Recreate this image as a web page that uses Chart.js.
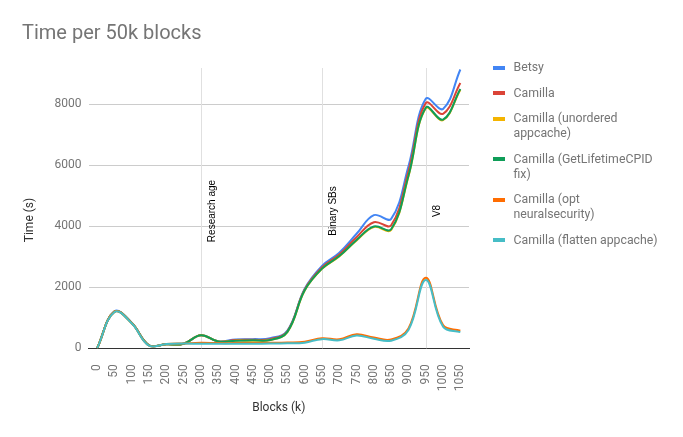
<!DOCTYPE html>
<html>
<head>
<meta charset="utf-8">
<script src="https://cdn.jsdelivr.net/npm/chart.js@4/dist/chart.umd.min.js"></script>
<style>
  body { margin: 0; background: #fff; }
  #wrap { position: relative; width: 683px; height: 437px; }
  #legend { position: absolute; left: 493px; top: 60px; width: 172px; font: 12.3px Roboto, sans-serif; color: #757575; }
  .item { position: relative; padding-left: 20.5px; width: 150px; line-height: 15px; margin-bottom: 10.5px; }
  .sw { position: absolute; left: 0; top: 5.5px; width: 12px; height: 4px; }
</style>
</head>
<body>
<div id="wrap">
  <canvas id="chart" width="683" height="437"></canvas>
  <div id="legend"></div>
</div>
<script>
const blocks = ['0', '50', '100', '150', '200', '250', '300', '350', '400', '450', '500',
  '550', '600', '650', '700', '750', '800', '850', '900', '950', '1000', '1050'];

const seriesNames = ['Betsy', 'Camilla', 'Camilla (unordered appcache)', 'Camilla (GetLifetimeCPID fix)',
  'Camilla (opt neuralsecurity)', 'Camilla (flatten appcache)'];
const seriesColors = ['#4285f4', '#db4437', '#f4b400', '#0f9d58', '#ff6d01', '#46bdc6'];

const betsy      = [0, 1210, 840, 100, 130, 150, 430, 230, 290, 300, 330, 580, 1950, 2700, 3130, 3750, 4360, 4240, 5960, 8170, 7840, 9130];
const camilla    = [0, 1200, 830, 100, 130, 150, 430, 220, 270, 280, 300, 560, 1930, 2650, 3070, 3640, 4130, 4030, 5800, 8030, 7680, 8690];
const unordered  = [0, 1200, 830, 100, 130, 150, 430, 220, 250, 250, 270, 530, 1890, 2600, 3010, 3530, 3970, 3880, 5630, 7860, 7470, 8470];
const cpidFix    = [0, 1200, 830, 100, 130, 150, 430, 220, 250, 260, 270, 540, 1900, 2610, 3020, 3550, 3990, 3900, 5650, 7880, 7490, 8490];
const optNeural  = [0, 1200, 830, 90, 140, 160, 180, 170, 170, 175, 180, 190, 215, 330, 295, 460, 350, 290, 650, 2310, 760, 580];
const flattenApp = [0, 1190, 820, 85, 140, 155, 150, 150, 150, 150, 155, 165, 185, 300, 260, 420, 310, 250, 600, 2240, 710, 530];

const seriesValues = [betsy, camilla, unordered, cpidFix, optNeural, flattenApp];

const yTicks = [0, 2000, 4000, 6000, 8000];

const markerBlocks = ['300', '650', '950'];
const markerLabels = ['Research age', 'Binary SBs', 'V8'];

// html legend, the text wraps like the original one
const legend = document.getElementById('legend');
seriesNames.forEach((name, i) => {
  const d = document.createElement('div');
  d.className = 'item';
  d.innerHTML = '<span class="sw" style="background:' + seriesColors[i] + '"></span>' + name;
  legend.appendChild(d);
});

// vertical marker lines + labels, y axis title
const markers = {
  id: 'markers',
  beforeDatasetsDraw(chart) {
    const {ctx, chartArea, scales} = chart;
    ctx.save();
    ctx.strokeStyle = '#e0e0e0';
    ctx.lineWidth = 1;
    markerBlocks.forEach((b, i) => {
      const x = Math.round(scales.x.getPixelForValue(blocks.indexOf(b))) + 0.5;
      ctx.beginPath();
      ctx.moveTo(x, chartArea.top);
      ctx.lineTo(x, chartArea.bottom);
      ctx.stroke();
      ctx.save();
      ctx.translate(x + 13.5, 211);
      ctx.rotate(-Math.PI / 2);
      ctx.fillStyle = '#000';
      ctx.font = '10px "Liberation Sans", Arial, sans-serif';
      ctx.textAlign = 'center';
      ctx.textBaseline = 'alphabetic';
      ctx.fillText(markerLabels[i], 0, 0);
      ctx.restore();
    });
    ctx.save();
    ctx.translate(30, 220);
    ctx.rotate(-Math.PI / 2);
    ctx.fillStyle = '#333';
    ctx.font = '12px Roboto';
    ctx.textAlign = 'center';
    ctx.textBaseline = 'middle';
    ctx.fillText('Time (s)', 0, 0);
    ctx.restore();
    ctx.restore();
  }
};

new Chart(document.getElementById('chart'), {
  type: 'line',
  data: {
    labels: blocks,
    datasets: seriesNames.map((name, i) => ({
      label: name,
      data: seriesValues[i],
      borderColor: seriesColors[i],
      backgroundColor: seriesColors[i],
      borderWidth: 2,
      pointRadius: 0,
      tension: 0.4,
      fill: false,
      order: seriesNames.length - i
    }))
  },
  options: {
    responsive: false,
    animation: false,
    events: [],
    layout: { padding: { left: 22, right: 214, top: 0, bottom: 22 } },
    plugins: {
      legend: { display: false },
      tooltip: { enabled: false },
      title: {
        display: true,
        text: 'Time per 50k blocks',
        align: 'start',
        color: '#757575',
        font: { family: 'Roboto', size: 20, weight: 'normal' },
        padding: { top: 22, bottom: 22 }
      }
    },
    scales: {
      x: {
        offset: true,
        grid: { display: false },
        border: { display: true, color: '#333' },
        ticks: {
          autoSkip: false, minRotation: 90, maxRotation: 90, padding: 8,
          color: '#757575', font: { family: 'Roboto', size: 12 }
        },
        title: {
          display: true, text: 'Blocks (k)', color: '#333', padding: 0,
          font: { family: 'Roboto', size: 12 }
        },
        afterFit(s) { s.height = 66.7; }
      },
      y: {
        min: 0,
        max: 9180,
        afterBuildTicks(s) { s.ticks = yTicks.map(v => ({ value: v })); },
        grid: { color: '#cccccc', drawTicks: false },
        border: { display: false },
        ticks: {
          padding: 7, color: '#757575', font: { family: 'Roboto', size: 12 },
          callback: v => String(v)
        },
        afterFit(s) { s.width = 66.5; }
      }
    }
  },
  plugins: [markers]
});
</script>
</body>
</html>
